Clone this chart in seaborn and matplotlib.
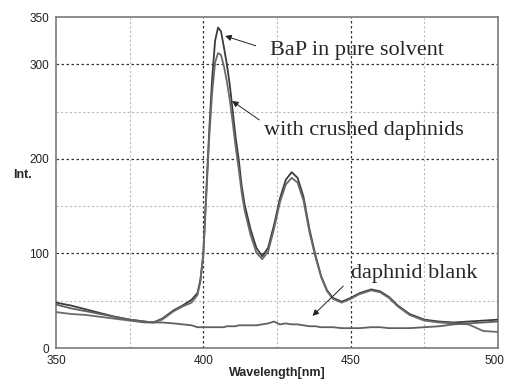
import pandas as pd
import matplotlib
matplotlib.use("Agg")
import matplotlib.pyplot as plt
import matplotlib.transforms as mtransforms
import seaborn as sns
from matplotlib.ticker import FixedLocator

# ------------------ data ------------------
wavelength = [350, 355, 360, 365, 370, 375, 380, 383, 386, 390, 393, 396, 398, 399,
              400, 401, 402, 403, 404, 405, 406, 407, 408, 409, 410, 411, 412, 413, 414,
              416, 418, 420, 422, 424, 426, 428, 430, 432, 434, 436, 438, 440, 442, 444, 447,
              450, 453, 457, 460, 463, 466, 470, 475, 480, 485, 490, 495, 500]

pure_solvent = [48, 45, 41, 37, 33, 30, 28, 27, 31, 40, 45, 51, 58, 72,
                100, 165, 230, 285, 325, 339, 335, 318, 300, 278, 250, 222, 200, 172, 152,
                126, 106, 97, 106, 130, 158, 178, 186, 180, 160, 126, 99, 76, 61, 53, 49,
                53, 58, 62, 60, 54, 45, 36, 30, 28, 27, 28, 29, 30]

crushed_daphnids = [38, 36, 35, 33, 31, 29, 27, 27, 30, 39, 44, 48, 56, 70,
                    98, 160, 222, 270, 302, 312, 310, 298, 282, 262, 238, 212, 190, 165, 146,
                    120, 101, 94, 102, 126, 154, 173, 180, 175, 156, 123, 97, 75, 60, 52, 48,
                    52, 57, 61, 59, 53, 44, 35, 29, 27, 26, 25, 18, 17]

daphnid_blank = [46, 42, 39, 36, 33, 30, 28, 27, 27, 26, 25, 24, 22, 22,
                 22, 22, 22, 22, 22, 22, 22, 22, 23, 23, 23, 23, 24, 24, 24,
                 24, 24, 25, 26, 28, 25, 26, 25, 25, 24, 23, 23, 22, 22, 22, 21,
                 21, 21, 22, 22, 21, 21, 21, 22, 23, 25, 26, 27, 28]

series_names = ["BaP in pure solvent", "with crushed daphnids", "daphnid blank"]

df = pd.DataFrame({
    "wavelength": wavelength * 3,
    "intensity": pure_solvent + crushed_daphnids + daphnid_blank,
    "series": [series_names[0]] * len(wavelength)
              + [series_names[1]] * len(wavelength)
              + [series_names[2]] * len(wavelength),
})

# ------------------ plot ------------------
sns.set_style("white")
plt.rcParams["font.family"] = ["Liberation Sans", "DejaVu Sans"]

fig = plt.figure(figsize=(5.06, 3.81), dpi=100)
ax = fig.add_axes([0.1107, 0.0866, 0.8733, 0.8684])

palette = {series_names[0]: "#3c3c3c", series_names[1]: "#6a6a6a", series_names[2]: "#606060"}
sns.lineplot(data=df, x="wavelength", y="intensity", hue="series", palette=palette,
             linewidth=1.3, legend=False, ax=ax, zorder=3)

ax.set_xlim(350, 500)
ax.set_ylim(0, 350)
ax.xaxis.set_major_locator(FixedLocator([350, 400, 450, 500]))
ax.xaxis.set_minor_locator(FixedLocator([375, 425, 475]))
ax.yaxis.set_major_locator(FixedLocator([0, 100, 200, 300, 350]))
ax.yaxis.set_minor_locator(FixedLocator([50, 150, 250]))

# grid: dark dashed majors, light dashed minors
ax.grid(False)
for v in [400, 450]:
    ax.axvline(v, color="#333333", ls=(0, (2, 2)), lw=0.9, zorder=1)
for v in [375, 425, 475]:
    ax.axvline(v, color="#bbbbbb", ls=(0, (2, 2)), lw=0.8, zorder=1)
for v in [100, 200, 300]:
    ax.axhline(v, color="#333333", ls=(0, (2, 2)), lw=0.9, zorder=1)
for v in [50, 150, 250]:
    ax.axhline(v, color="#bbbbbb", ls=(0, (2, 2)), lw=0.8, zorder=1)

for s in ax.spines.values():
    s.set_color("#7a7a7a")
    s.set_linewidth(1.2)

ax.tick_params(axis="y", which="major", direction="out", length=4, width=0.8,
               color="#555555", labelsize=8.5, labelcolor="#222222", pad=1)
ax.tick_params(axis="y", which="minor", length=0)
ax.tick_params(axis="x", which="both", direction="in", length=4, width=0.8,
               color="#333333", labelsize=8.5, labelcolor="#222222", pad=5)
ax.tick_params(axis="x", which="major", length=0)

ax.set_xlabel("Wavelength[nm]", fontsize=9, fontweight="bold", labelpad=0)
ax.set_ylabel("")
fig.text(0.025, 0.54, "Int.", fontsize=9, fontweight="bold", ha="left", va="center")

# annotations, arrows start just left of each label
serif = ["Liberation Serif", "DejaVu Serif"]
def arrow(rel, gap):
    return dict(arrowstyle="-|>", color="#222222", lw=0.7, mutation_scale=9,
                shrinkA=gap, relpos=rel)

ax.annotate("BaP in pure solvent", xy=(406.5, 331), xytext=(422.5, 315),
            fontsize=16, family=serif, ha="left", va="center", arrowprops=arrow((0, 0.5), 8))
ax.annotate("with crushed daphnids", xy=(409, 263), xytext=(420.5, 230),
            fontsize=16, family=serif, ha="left", va="center", arrowprops=arrow((0, 0.9), 1))
ax.annotate("daphnid blank", xy=(436.4, 32), xytext=(450, 79),
            fontsize=16, family=serif, ha="left", va="center", arrowprops=arrow((0, 0.2), 4))

# keep the last x tick label inside the picture
fig.canvas.draw()
last = ax.xaxis.get_major_ticks()[-1].label1
last.set_transform(last.get_transform() + mtransforms.ScaledTranslation(-3 / 100, 0, fig.dpi_scale_trans))

fig.savefig("out.png", dpi=100)
